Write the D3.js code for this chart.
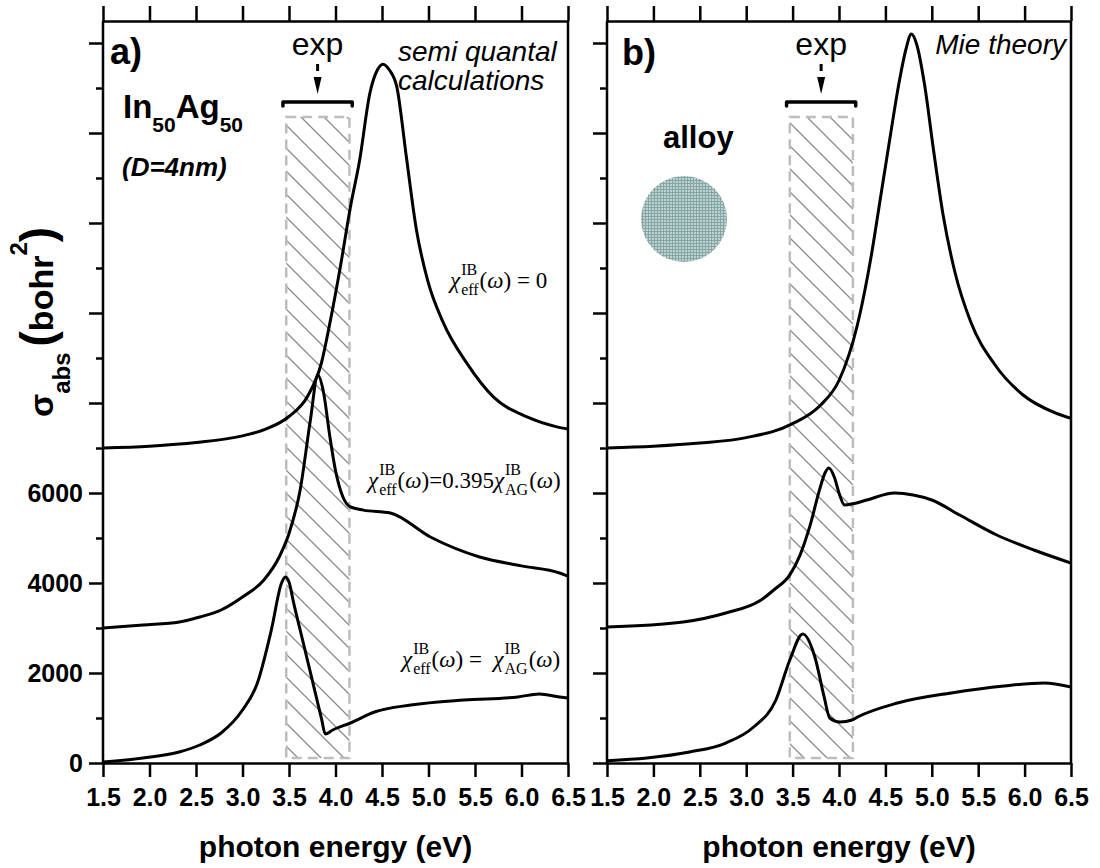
<!DOCTYPE html>
<html>
<head>
<meta charset="utf-8">
<script src="https://cdnjs.cloudflare.com/ajax/libs/d3/7.8.5/d3.min.js"></script>
<style>
body { margin: 0; background: #fff; }
</style>
</head>
<body>
<script>
// ---- data (sigma_abs in bohr^2, curves already offset) ----
var energyTicks = [1.5, 2.0, 2.5, 3.0, 3.5, 4.0, 4.5, 5.0, 5.5, 6.0, 6.5];
var sigmaMajorTicks = [0, 2000, 4000, 6000, 8000, 10000, 12000, 14000, 16000];
var sigmaMinorTicks = [1000, 3000, 5000, 7000, 9000, 11000, 13000, 15000];
var sigmaTickLabels = ["0", "2000", "4000", "6000"];

// panel a) semi quantal calculations
var aTopE = [1.5, 2.0, 2.5, 3.0, 3.25, 3.5, 3.7, 3.85, 3.94, 4.05, 4.16, 4.26, 4.37, 4.45, 4.51, 4.58, 4.66, 4.76, 4.87, 4.99, 5.16, 5.41, 5.7, 6.06, 6.38, 6.5];
var aTopS = [7000, 7040, 7120, 7270, 7420, 7700, 8150, 8900, 9780, 11000, 12350, 13400, 14890, 15400, 15530, 15400, 15020, 13500, 11850, 10730, 9780, 8890, 8130, 7690, 7470, 7420];
var aMidE = [1.5, 1.93, 2.32, 2.54, 2.77, 3.0, 3.23, 3.4, 3.5, 3.62, 3.73, 3.81, 3.87, 3.94, 4.0, 4.08, 4.16, 4.3, 4.59, 5.02, 5.55, 6.0, 6.41, 6.5];
var aMidS = [3000, 3067, 3133, 3244, 3400, 3689, 4067, 4600, 5100, 6067, 7622, 8620, 8250, 7244, 6500, 5911, 5690, 5620, 5556, 5022, 4578, 4380, 4222, 4150];
var aLowE = [1.5, 1.93, 2.32, 2.54, 2.77, 3.0, 3.16, 3.31, 3.42, 3.46, 3.5, 3.55, 3.65, 3.75, 3.85, 3.89, 3.97, 4.16, 4.42, 4.81, 5.38, 5.96, 6.19, 6.41, 6.5];
var aLowS = [20, 111, 244, 400, 667, 1178, 1778, 2956, 4000, 4133, 4020, 3560, 2700, 1840, 980, 644, 733, 889, 1133, 1289, 1400, 1467, 1533, 1467, 1444];

// panel b) Mie theory
var bTopE = [1.5, 2.0, 2.5, 3.0, 3.5, 3.8, 4.0, 4.2, 4.35, 4.45, 4.55, 4.65, 4.72, 4.78, 4.84, 4.92, 5.02, 5.12, 5.25, 5.42, 5.68, 5.97, 6.33, 6.5];
var bTopS = [7000, 7040, 7110, 7230, 7540, 7950, 8500, 9750, 11300, 12600, 13900, 15150, 15850, 16200, 15950, 15100, 13600, 12200, 10900, 9800, 8850, 8200, 7780, 7660];
var bMidE = [1.5, 2.32, 2.78, 3.16, 3.3, 3.47, 3.58, 3.69, 3.79, 3.85, 3.89, 3.95, 4.0, 4.06, 4.15, 4.3, 4.6, 4.8, 5.0, 5.3, 5.7, 6.1, 6.5];
var bMidS = [3022, 3133, 3333, 3622, 3850, 4180, 4620, 5290, 6070, 6450, 6556, 6350, 6000, 5733, 5760, 5844, 6000, 5956, 5844, 5511, 5067, 4733, 4444];
var bLowE = [1.5, 1.93, 2.39, 2.78, 3.08, 3.32, 3.47, 3.61, 3.74, 3.84, 3.9, 4.01, 4.14, 4.2, 4.63, 5.21, 5.78, 6.21, 6.5];
var bLowS = [50, 111, 244, 444, 800, 1400, 2289, 2867, 2356, 1467, 1000, 911, 956, 1022, 1333, 1556, 1711, 1778, 1689];

// experimental window
var expE = [3.47, 4.15];
var expS = [111, 14356];
var bracketE = [3.435, 4.18];
var bracketS = 14689;

var sans = "Arial, 'Liberation Sans', sans-serif";
var serif = "'Times New Roman', 'Liberation Serif', serif";

var width = 1100, height = 868;
var frameTop = 21;
var svg = d3.select("body").append("svg")
  .attr("width", width)
  .attr("height", height);

var defs = svg.append("defs");

// hatch for the exp window
var hatch = defs.append("pattern")
  .attr("id", "hatch")
  .attr("patternUnits", "userSpaceOnUse")
  .attr("width", 23).attr("height", 23);
hatch.append("path")
  .attr("d", "M-2,-2 L25,25 M-2,21 L2,25 M21,-2 L25,2")
  .attr("stroke", "#8a8a8a").attr("stroke-width", 1.3);

// fine grid texture for the alloy sphere
var grid = defs.append("pattern")
  .attr("id", "grid")
  .attr("patternUnits", "userSpaceOnUse")
  .attr("width", 3).attr("height", 3);
grid.append("rect").attr("width", 3).attr("height", 3).attr("fill", "#bdd1d1");
grid.append("rect").attr("width", 3).attr("height", 1).attr("fill", "#86a6a6");
grid.append("rect").attr("width", 1).attr("height", 3).attr("fill", "#86a6a6");

var y = d3.scaleLinear().domain([0, 16000]).range([763, 43]);

var line = function(x) {
  return d3.line()
    .x(function(d) { return x(d[0]); })
    .y(function(d) { return y(d[1]); })
    .curve(d3.curveMonotoneX);
};

function drawPanel(id, x0, x1, curves, withLabels) {
  var x = d3.scaleLinear().domain([1.5, 6.5]).range([x0, x1]);
  var g = svg.append("g");

  defs.append("clipPath").attr("id", "clip" + id)
    .append("rect")
    .attr("x", x0).attr("y", frameTop)
    .attr("width", x1 - x0).attr("height", y(0) - frameTop);

  // exp window
  g.append("rect")
    .attr("x", x(expE[0]))
    .attr("y", y(expS[1]))
    .attr("width", x(expE[1]) - x(expE[0]))
    .attr("height", y(expS[0]) - y(expS[1]))
    .attr("fill", "url(#hatch)")
    .attr("stroke", "#bdbdbd")
    .attr("stroke-width", 2.5)
    .attr("stroke-dasharray", "10,6");

  // bracket + arrow + label
  var by = y(bracketS);
  var bx0 = x(bracketE[0]), bx1 = x(bracketE[1]);
  var mx = (bx0 + bx1) / 2;
  g.append("path")
    .attr("d", "M" + bx0 + "," + (by + 4) + "L" + bx0 + "," + by + "L" + bx1 + "," + by + "L" + bx1 + "," + (by + 4))
    .attr("fill", "none").attr("stroke", "#000")
    .attr("stroke-width", 3.5).attr("stroke-linecap", "round").attr("stroke-linejoin", "round");
  g.append("line")
    .attr("x1", mx).attr("x2", mx).attr("y1", by - 38).attr("y2", by - 31)
    .attr("stroke", "#000").attr("stroke-width", 3);
  g.append("path")
    .attr("d", "M" + (mx - 4) + "," + (by - 25) + "L" + (mx + 4) + "," + (by - 25) + "L" + mx + "," + (by - 8) + "Z")
    .attr("fill", "#000");
  g.append("text")
    .attr("x", mx).attr("y", 55)
    .attr("text-anchor", "middle")
    .attr("font-family", sans).attr("font-size", 32)
    .text("exp");

  // curves
  curves.forEach(function(c) {
    var pts = c[0].map(function(e, i) { return [e, c[1][i]]; });
    g.append("path")
      .datum(pts)
      .attr("clip-path", "url(#clip" + id + ")")
      .attr("fill", "none")
      .attr("stroke", "#000")
      .attr("stroke-width", 3)
      .attr("stroke-linejoin", "round")
      .attr("d", line(x));
  });

  // axes
  var bottom = g.append("g")
    .attr("transform", "translate(0," + y(0) + ")")
    .call(d3.axisBottom(x).tickValues(energyTicks).tickSize(14).tickSizeOuter(0).tickPadding(11)
      .tickFormat(d3.format(".1f")));
  var top = g.append("g")
    .attr("transform", "translate(0," + frameTop + ")")
    .call(d3.axisTop(x).tickValues(energyTicks).tickSize(15).tickSizeOuter(0).tickFormat(""));
  var left = g.append("g")
    .attr("transform", "translate(" + x0 + ",0)")
    .call(d3.axisLeft(y).tickValues(sigmaMajorTicks).tickSize(14).tickSizeOuter(0).tickPadding(6)
      .tickFormat(function(d, i) { return withLabels && i < sigmaTickLabels.length ? sigmaTickLabels[i] : ""; }));
  var minor = g.append("g")
    .attr("transform", "translate(" + x0 + ",0)")
    .call(d3.axisLeft(y).tickValues(sigmaMinorTicks).tickSize(7).tickSizeOuter(0).tickFormat(""));
  left.select(".domain").attr("d", "M0," + y(0) + "V" + frameTop);
  minor.select(".domain").remove();
  g.append("line")
    .attr("x1", x1).attr("x2", x1).attr("y1", frameTop).attr("y2", y(0))
    .attr("stroke", "#000").attr("stroke-width", 2.5);

  [bottom, top, left, minor].forEach(function(a) {
    a.selectAll("path, line").attr("stroke", "#000").attr("stroke-width", 2.5);
    a.selectAll("text")
      .attr("font-family", sans).attr("font-size", 25)
      .attr("font-weight", "bold").attr("fill", "#000");
  });

  g.append("text")
    .attr("x", (x0 + x1) / 2).attr("y", 857)
    .attr("text-anchor", "middle")
    .attr("font-family", sans).attr("font-size", 30).attr("font-weight", "bold")
    .text("photon energy (eV)");

  return x;
}

var xa = drawPanel("a", 103, 568, [[aTopE, aTopS], [aMidE, aMidS], [aLowE, aLowS]], true);
var xb = drawPanel("b", 607, 1071, [[bTopE, bTopS], [bMidE, bMidS], [bLowE, bLowS]], false);

// panel letters and notes
function label(x, yy, txt, size, weight, style, anchor) {
  return svg.append("text")
    .attr("x", x).attr("y", yy)
    .attr("font-family", sans).attr("font-size", size)
    .attr("font-weight", weight || "normal")
    .attr("font-style", style || "normal")
    .attr("text-anchor", anchor || "start")
    .text(txt);
}
label(110, 64, "a)", 36, "bold");
label(622, 65, "b)", 36, "bold");
label(398, 61, "semi quantal", 28, "normal", "italic");
label(398, 90, "calculations", 28, "normal", "italic");
label(1066, 54, "Mie theory", 28, "normal", "italic", "end");
label(663, 148, "alloy", 31, "bold");
label(122, 176, "(D=4nm)", 26, "bold", "italic");

var alloyName = svg.append("text")
  .attr("x", 123).attr("y", 118)
  .attr("font-family", sans).attr("font-weight", "bold").attr("font-size", 33);
alloyName.append("tspan").text("In");
alloyName.append("tspan").attr("font-size", 21).attr("dy", 14).text("50");
alloyName.append("tspan").attr("dy", -14).text("Ag");
alloyName.append("tspan").attr("font-size", 21).attr("dy", 14).text("50");

// alloy sphere
svg.append("circle")
  .attr("cx", 684).attr("cy", 219).attr("r", 43)
  .attr("fill", "url(#grid)");

// y axis title
var ytitle = svg.append("text")
  .attr("transform", "translate(53,322) rotate(-90)")
  .attr("text-anchor", "middle")
  .attr("font-family", sans).attr("font-weight", "bold").attr("font-size", 34);
ytitle.append("tspan").text("σ");
ytitle.append("tspan").attr("font-size", 24).attr("dy", 17).text("abs");
ytitle.append("tspan").attr("font-size", 46).attr("dy", -17).attr("dx", 6).text("(");
ytitle.append("tspan").text("bohr");
ytitle.append("tspan").attr("font-size", 24).attr("dy", -26).text("2");
ytitle.append("tspan").attr("font-size", 46).attr("dy", 26).text(")");

// chi formulas: chi with stacked IB / subscript
function formula(x, yy, pieces) {
  var cx = x;
  pieces.forEach(function(p) {
    if (p.chi) {
      var c = svg.append("text").attr("x", cx).attr("y", yy)
        .attr("font-family", serif).attr("font-style", "italic").attr("font-size", 23).text("χ");
      cx += c.node().getComputedTextLength() + 1;
      var sup = svg.append("text").attr("x", cx).attr("y", yy - 13)
        .attr("font-family", serif).attr("font-size", 16).text("IB");
      var sub = svg.append("text").attr("x", cx).attr("y", yy + 7)
        .attr("font-family", serif).attr("font-size", 16).text(p.chi);
      cx += Math.max(sup.node().getComputedTextLength(), sub.node().getComputedTextLength()) + 1;
    } else {
      var t = svg.append("text").attr("x", cx).attr("y", yy)
        .attr("font-family", serif).attr("font-size", 23);
      t.append("tspan").text("(");
      t.append("tspan").attr("font-style", "italic").text("ω");
      t.append("tspan").text(")" + p.rest);
      cx += t.node().getComputedTextLength();
    }
  });
}
formula(450, 288, [{chi: "eff"}, {rest: "\u00a0=\u00a00"}]);
formula(368, 488, [{chi: "eff"}, {rest: "=0.395"}, {chi: "AG"}, {rest: ""}]);
formula(402, 667, [{chi: "eff"}, {rest: "\u00a0=\u00a0\u00a0"}, {chi: "AG"}, {rest: ""}]);
</script>
</body>
</html>
